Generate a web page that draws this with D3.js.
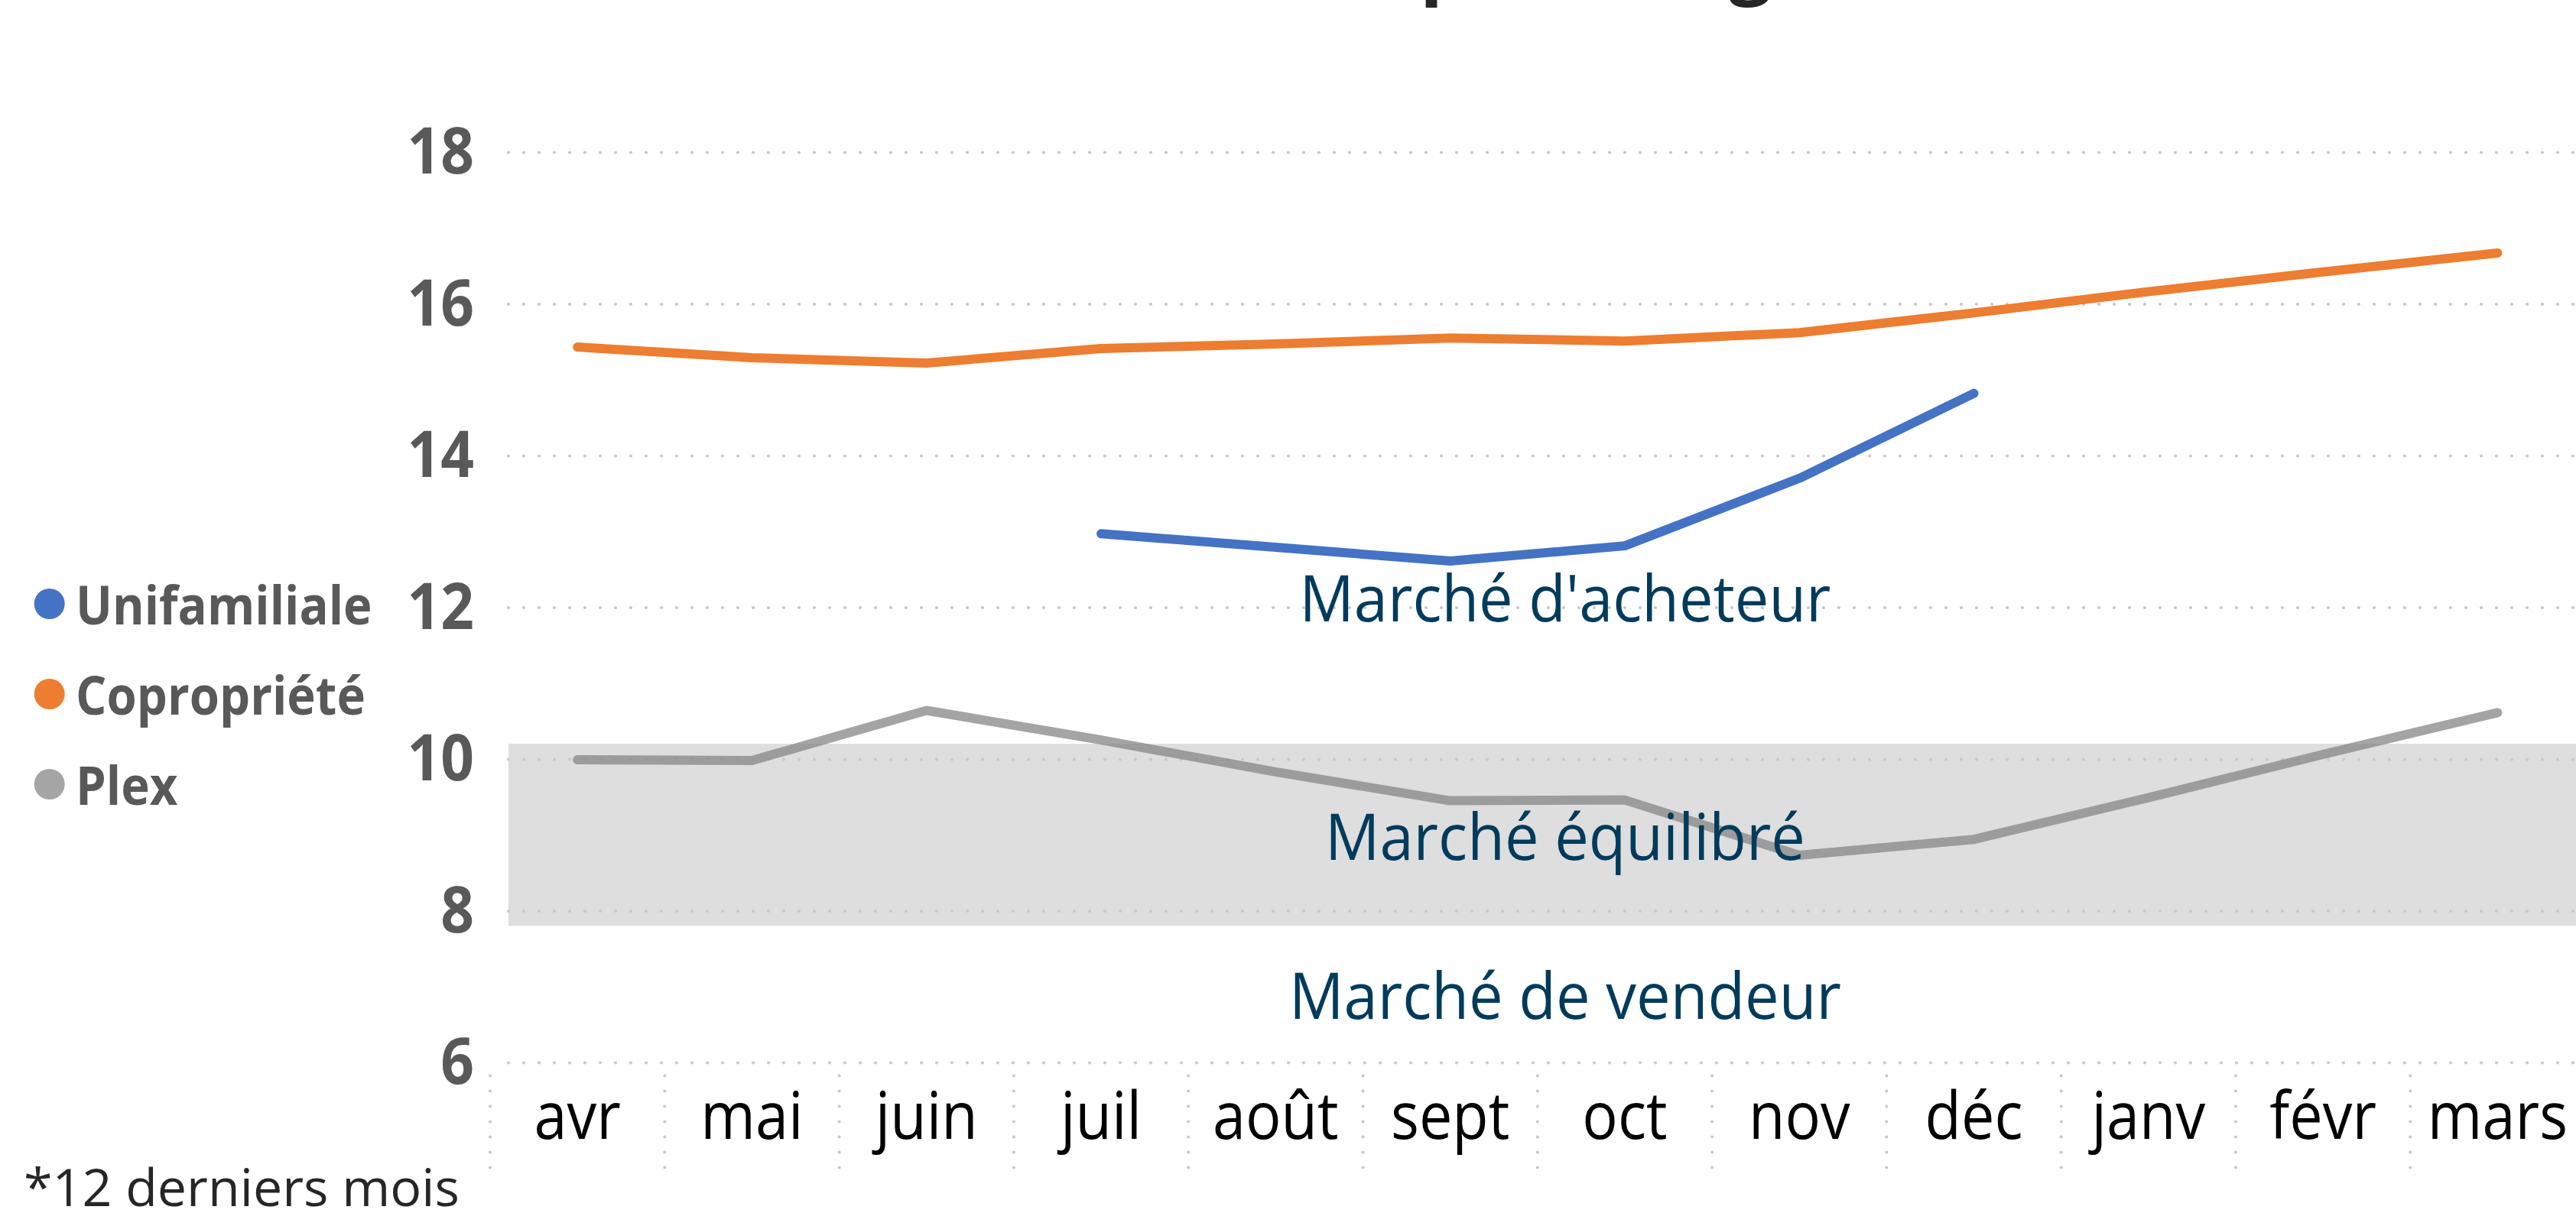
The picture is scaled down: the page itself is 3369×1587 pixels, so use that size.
<!DOCTYPE html>
<html>
<head>
<meta charset="utf-8">
<script src="https://cdn.jsdelivr.net/npm/d3@7"></script>
<style>
  html, body { margin: 0; padding: 0; background: #ffffff; }
  svg { display: block; }
</style>
</head>
<body>
<script>
// ---------- data ----------
const months = ["avr", "mai", "juin", "juil", "août", "sept", "oct", "nov", "déc", "janv", "févr", "mars"];
const seriesNames = ["Unifamiliale", "Copropriété", "Plex"];
const unifamiliale = [null, null, null, 12.97, 12.79, 12.61, 12.81, 13.70, 14.82, null, null, null];
const copropriete = [15.43, 15.29, 15.22, 15.41, 15.47, 15.55, 15.51, 15.62, 15.88, 16.16, 16.42, 16.67];
const plex = [9.99, 9.98, 10.64, 10.25, 9.83, 9.45, 9.46, 8.73, 8.94, 9.49, 10.06, 10.61];
const yTicks = [6, 8, 10, 12, 14, 16, 18];
const balancedZone = [7.8, 10.2];
const zoneLabels = ["Marché d'acheteur", "Marché équilibré", "Marché de vendeur"];
const titleText = "Mois d'inventaire par catégorie*";
const footnote = "*12 derniers mois";

// ---------- layout ----------
const W = 3369, H = 1587;
const FONT = "'Open Sans', 'Noto Sans', sans-serif";
const colors = ["#4472C4", "#ED7D31", "#888888"];

const svg = d3.select("body").append("svg")
  .attr("width", W).attr("height", H)
  .attr("viewBox", `0 0 ${W} ${H}`);
svg.append("rect").attr("width", W).attr("height", H).attr("fill", "#ffffff");

const step = 228.3;
const x = d3.scaleBand().domain(months).range([641, 641 + 12 * step]).padding(0);
const cx = m => x(m) + x.bandwidth() / 2;
const y = d3.scaleLinear().domain([6, 18]).range([1390, 199]);
const plotLeft = 665, plotRight = 641 + 12 * step;

// ---------- title (cropped at top) ----------
const title = svg.append("text")
  .attr("font-family", FONT).attr("font-weight", 700)
  .attr("font-size", 100).attr("fill", "#262626")
  .text(titleText);
{
  const node = title.node();
  const pi = titleText.indexOf("p"), gi = titleText.indexOf("g");
  const px = node.getStartPositionOfChar(pi).x;
  const gx = node.getStartPositionOfChar(gi).x;
  const d = (gx - px) / 100;
  const S = 425 / (d + 0.21);
  const startX = 1865 - 0.08 * S - px * S / 100;
  title.attr("font-size", S).attr("x", startX).attr("y", 9.5 - 0.24 * S);
}

// ---------- balanced market band ----------
svg.append("rect")
  .attr("x", plotLeft).attr("width", plotRight - plotLeft)
  .attr("y", y(balancedZone[1])).attr("height", y(balancedZone[0]) - y(balancedZone[1]))
  .attr("fill", "#dedede");

// ---------- gridlines ----------
const yAxis = d3.axisLeft(y).tickValues(yTicks).tickSize(-(plotRight - plotLeft)).tickFormat("");
const gGrid = svg.append("g").attr("transform", `translate(${plotLeft},0)`).call(yAxis);
gGrid.select(".domain").remove();
gGrid.selectAll(".tick line")
  .attr("stroke", "#c9c9c9").attr("stroke-width", 4.2)
  .attr("stroke-linecap", "round").attr("stroke-dasharray", "0,20");

// y tick labels
svg.append("g").selectAll("text").data(yTicks).join("text")
  .attr("transform", v => `translate(620,${y(v) + 28}) scale(0.9,1)`)
  .attr("text-anchor", "end")
  .attr("font-family", FONT).attr("font-weight", 700).attr("font-size", 85)
  .attr("fill", "#595959")
  .text(v => v);

// category separators below axis
const seps = d3.range(0, months.length + 1).map(i => 641 + i * step);
svg.append("g").selectAll("line").data(seps).join("line")
  .attr("x1", d => d).attr("x2", d => d)
  .attr("y1", 1407.5).attr("y2", 1532)
  .attr("stroke", "#c9c9c9").attr("stroke-width", 4.2)
  .attr("stroke-linecap", "round").attr("stroke-dasharray", "0,20");

// x labels
svg.append("g").selectAll("text").data(months).join("text")
  .attr("transform", m => `translate(${cx(m)},1490) scale(0.9,1)`)
  .attr("text-anchor", "middle")
  .attr("font-family", FONT).attr("font-size", 86)
  .attr("fill", "#000000")
  .text(m => m);

// ---------- series lines ----------
const allSeries = [unifamiliale, copropriete, plex];
const line = d3.line()
  .defined(d => d.v !== null)
  .x(d => cx(d.m)).y(d => y(d.v));
allSeries.forEach((vals, i) => {
  const pts = months.map((m, j) => ({ m, v: vals[j] }));
  svg.append("path")
    .datum(pts)
    .attr("d", line)
    .attr("fill", "none")
    .attr("stroke", colors[i])
    .attr("stroke-opacity", i === 2 ? 0.76 : 1)
    .attr("stroke-width", 12)
    .attr("stroke-linecap", "round")
    .attr("stroke-linejoin", "round");
});

// ---------- zone labels ----------
const zoneBaselines = [813, 1125, 1333];
const zoneWidths = [695, 628, 722];
svg.append("g").selectAll("text").data(zoneLabels).join("text")
  .attr("x", (d, i) => 2047 - zoneWidths[i] / 2)
  .attr("y", (d, i) => zoneBaselines[i])
  .attr("textLength", (d, i) => zoneWidths[i])
  .attr("lengthAdjust", "spacingAndGlyphs")
  .attr("font-family", FONT).attr("font-size", 85)
  .attr("fill", "#003b5c")
  .text(d => d);

// ---------- legend ----------
const leg = svg.append("g");
leg.selectAll("circle").data(seriesNames).join("circle")
  .attr("cx", 64.7).attr("cy", (d, i) => 790 + i * 118)
  .attr("r", 20)
  .attr("fill", (d, i) => ["#4472C4", "#ED7D31", "#A5A5A5"][i]);
leg.selectAll("text").data(seriesNames).join("text")
  .attr("transform", (d, i) => `translate(99,${817 + i * 118}) scale(0.92,1)`)
  .attr("font-family", FONT).attr("font-weight", 700).attr("font-size", 69)
  .attr("fill", "#595959")
  .text(d => d);

// ---------- footnote ----------
svg.append("text")
  .attr("x", 31).attr("y", 1578)
  .attr("textLength", 570).attr("lengthAdjust", "spacingAndGlyphs")
  .attr("font-family", FONT).attr("font-size", 67)
  .attr("fill", "#262626")
  .text(footnote);
</script>
</body>
</html>
